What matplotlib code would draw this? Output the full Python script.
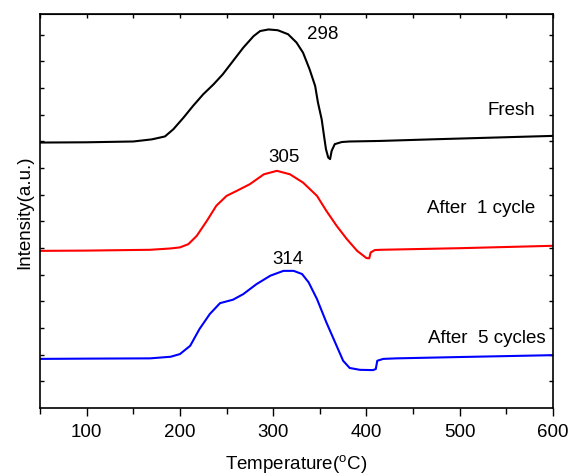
import matplotlib
matplotlib.use('Agg')
import matplotlib.pyplot as plt

plt.rcParams['font.family'] = ['Liberation Sans', 'DejaVu Sans']
plt.rcParams['mathtext.fontset'] = 'custom'
plt.rcParams['mathtext.rm'] = 'Liberation Sans'

# Fresh sample
fresh_t = [50, 100, 150, 170, 179, 184, 193, 204, 214, 225, 236, 246, 257, 268, 279, 286, 295,
           305, 316, 325, 332, 339, 345, 348, 352, 354.5, 356.6, 359, 361, 362.7, 366, 373.5,
           382, 414, 470, 600]
fresh_y = [9.95, 9.96, 9.99, 10.07, 10.14, 10.18, 10.45, 10.89, 11.32, 11.76, 12.13, 12.51,
           13.01, 13.51, 13.94, 14.13, 14.19, 14.16, 14.01, 13.7, 13.32, 12.7, 12.07, 11.45,
           10.82, 10.2, 9.7, 9.39, 9.33, 9.64, 9.89, 9.97, 9.99, 10.01, 10.07, 10.2]

# After 1 cycle
cyc1_t = [50, 100, 168, 190, 200, 209, 218, 229, 239, 250, 261, 275, 290, 304, 318, 332, 347,
          357, 368, 379, 390, 400, 403, 404.5, 409, 415, 500, 600]
cyc1_y = [5.89, 5.9, 5.93, 5.98, 6.02, 6.14, 6.45, 7.02, 7.58, 7.95, 8.14, 8.39, 8.76, 8.89,
          8.76, 8.45, 7.95, 7.39, 6.83, 6.33, 5.89, 5.62, 5.61, 5.83, 5.92, 5.93, 5.99, 6.08]

# After 5 cycles
cyc5_t = [50, 100, 168, 190, 200, 211, 221, 232, 243, 257, 268, 282, 297, 311, 322, 331, 338,
          347, 357, 368, 375, 382, 393, 407, 410, 411.6, 418, 432, 500, 600]
cyc5_y = [1.84, 1.85, 1.86, 1.92, 2.02, 2.33, 2.96, 3.52, 3.93, 4.06, 4.27, 4.64, 4.96, 5.14,
          5.14, 5.02, 4.71, 4.08, 3.21, 2.33, 1.77, 1.5, 1.43, 1.42, 1.46, 1.77, 1.84, 1.86, 1.91, 1.98]

peak_labels = ['298', '305', '314']
peak_pos = [(353.4, 14.04), (311.6, 9.44), (315.4, 5.62)]
names = ['Fresh', 'After  1 cycle', 'After  5 cycles']
name_pos = [(580.7, 11.2), (580.7, 7.53), (592.5, 2.66)]

fig = plt.figure(figsize=(5.73, 4.77), dpi=100)
ax = fig.add_axes([0.0698, 0.1426, 0.8953, 0.826])

ax.plot(fresh_t, fresh_y, color='black', lw=1.5)
ax.plot(cyc1_t, cyc1_y, color='red', lw=1.5)
ax.plot(cyc5_t, cyc5_y, color='blue', lw=1.5)

for lab, (x, y) in zip(peak_labels, peak_pos):
    ax.text(x, y, lab, fontsize=13.5, ha='center', va='center')
for lab, (x, y) in zip(names, name_pos):
    ax.text(x, y, lab, fontsize=13.5, ha='right', va='center')

ax.set_xlim(50, 600)
ax.set_ylim(0, 14.77)
ax.set_xticks([100, 200, 300, 400, 500, 600])
ax.set_xticks(range(50, 601, 50), minor=True)
ax.set_yticks(range(1, 15))
ax.set_yticklabels([])
ax.tick_params(axis='x', which='major', direction='out', length=5.5, width=1, labelsize=13.5, pad=5)
ax.tick_params(axis='x', which='minor', direction='out', length=4, width=1)
ax.tick_params(axis='y', which='major', direction='in', length=3, width=1, left=True, right=True)

top = ax.secondary_xaxis('top')
top.set_xticks(range(50, 601, 50))
top.set_xticklabels([])
top.tick_params(direction='in', length=3, width=1)

for sp in ax.spines.values():
    sp.set_linewidth(1.2)

ax.set_xlabel(r'Temperature($\mathregular{^o}$C)', fontsize=13.5, labelpad=9)
ax.set_ylabel('Intensity(a.u.)', fontsize=13.5, labelpad=1)

fig.savefig('out.png', dpi=100)
